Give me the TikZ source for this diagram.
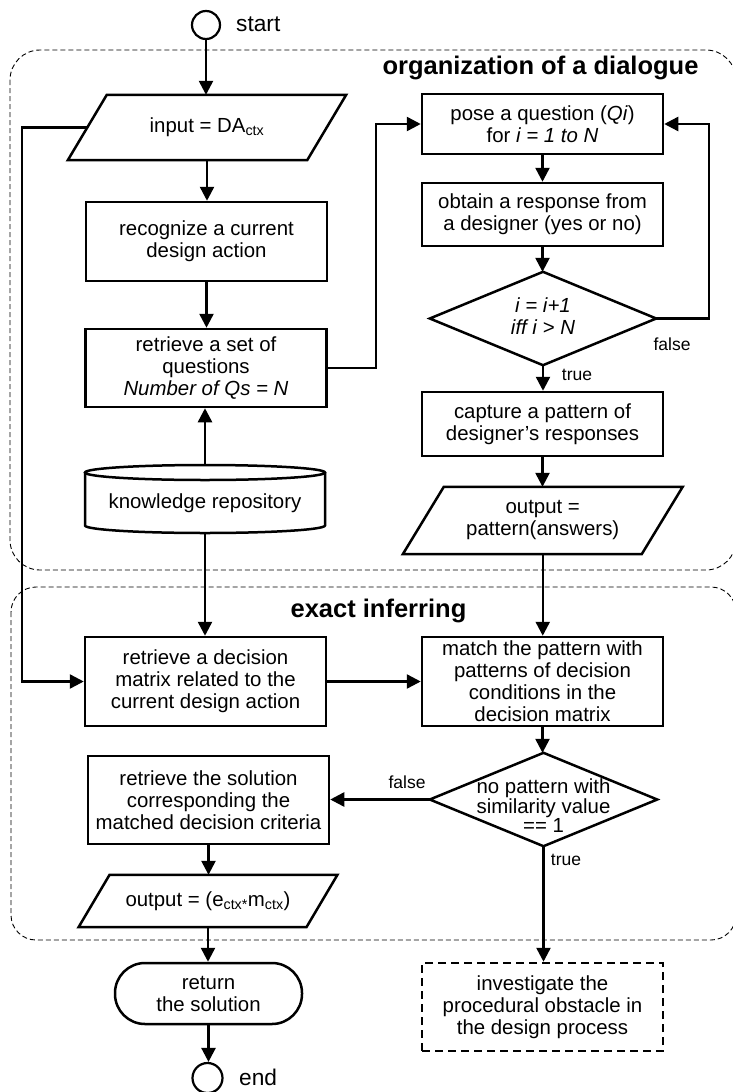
\documentclass[tikz,border=0pt]{standalone}
\usepackage{fontspec}
\setmainfont{Liberation Sans}
\usetikzlibrary{arrows.meta}
\newcommand\drawpara[2]{\draw[line] ([xshift=#2]#1.north west) -- ([xshift=#2]#1.north east) -- ([xshift=-#2]#1.south east) -- ([xshift=-#2]#1.south west) -- cycle;}
\begin{document}
\begin{tikzpicture}[x=1pt,y=-1pt,
  line/.style={line width=2.5pt},
  arr/.style={line width=2.5pt,-{Triangle[length=14pt,width=14pt]}},
  txt/.style={font=\fontsize{20.4}{22}\selectfont,align=center,inner sep=1pt},
  box/.style={txt,draw,line width=2.5pt,minimum width=241pt},
  ghost/.style={txt},
  invbox/.style={box,dash pattern=on 8pt off 5pt},
  circ/.style={draw,circle,line width=2.2pt,minimum size=28pt,inner sep=0pt},
  cont/.style={line width=0.9pt,dash pattern=on 5pt off 3pt},
  title/.style={font=\bfseries\fontsize{25.5}{28}\selectfont,inner sep=0pt},
  lab/.style={font=\fontsize{17.5}{19}\selectfont,inner sep=0pt},
  sel/.style={font=\fontsize{22.7}{24}\selectfont,inner sep=0pt,anchor=west}]
\useasboundingbox (0,0) rectangle (733,1092);
\fill[white] (0,0) rectangle (733,1092);
% containers
\draw[cont,rounded corners=30pt] (10,50) rectangle (736,570);
\draw[cont,rounded corners=25pt] (11,587) rectangle (736,940);
\node[title] (t1) at (540.5,68) {organization of a dialogue};
\node[title] (t2) at (378.5,611) {exact inferring};
% left column
\node[circ] (start) at (206,25) {};
\node[sel] (startl) at (236,24) {start};
\node[ghost,minimum width=239pt,minimum height=65pt] (in) at (207,127.5) {input = DA\textsubscript{ctx}};
\drawpara{in}{19.5pt}
\node[box,minimum height=79pt] (rec) at (206.5,241.5) {recognize a current\\design action};
\node[box,minimum height=78pt] (set) at (206,368) {retrieve a set of\\questions\\\textit{Number of Qs = N}};
\node[ghost,minimum width=240pt,minimum height=68pt] (kr) at (205,499) {};
\draw[line] (85,472.5) -- (85,525.5) arc[start angle=180,end angle=360,x radius=120pt,y radius=7.5pt] -- (325,472.5);
\draw[line] (205,472.5) ellipse[x radius=120pt,y radius=7.5pt];
\node[txt] (krt) at (205,503) {knowledge repository};
\node[box,minimum height=89pt] (dm) at (205.5,681.5) {retrieve a decision\\matrix related to the\\current design action};
\node[box,minimum height=88pt] (sol) at (208.5,800) {retrieve the solution\\corresponding the\\matched decision criteria};
\node[ghost,minimum width=227.5pt,minimum height=52pt] (out3) at (208,901) {output = (e\textsubscript{ctx*}m\textsubscript{ctx})};
\drawpara{out3}{15.5pt}
\node[box,rounded corners=30pt,minimum width=187pt,minimum height=61pt] (term) at (208.5,993.5) {return\\the solution};
\node[circ,minimum size=30pt] (end) at (207.5,1078) {};
\node[sel] (endl) at (239,1077) {end};
% right column
\node[box,minimum height=60pt] (pose) at (542.5,124) {pose a question (\textit{Qi})\\for \textit{i = 1 to N}};
\node[box,minimum height=63pt] (obt) at (542.5,214.5) {obtain a response from\\a designer (yes or no)};
\node[ghost,minimum width=226pt,minimum height=93pt] (d1) at (543,318.5) {};
\draw[line] (d1.north) -- (d1.east) -- (d1.south) -- (d1.west) -- cycle;
\node[txt] (d1t) at (543,316.5) {\textit{i = i+1}\\\textit{iff i > N}};
\node[box,minimum height=64pt] (cap) at (542.5,424) {capture a pattern of\\designer’s responses};
\node[ghost,minimum width=238.5pt,minimum height=67pt] (out2) at (542.75,520.5) {output =\\pattern(answers)};
\drawpara{out2}{20.5pt}
\node[box,minimum height=89pt] (match) at (542.5,681.5) {match the pattern with\\patterns of decision\\conditions in the\\decision matrix};
\node[ghost,minimum width=227pt,minimum height=93pt] (d2) at (543.5,799.5) {};
\draw[line] (d2.north) -- (d2.east) -- (d2.south) -- (d2.west) -- cycle;
\node[txt,font=\fontsize{20.4}{19}\selectfont] (d2t) at (543.5,806) {no pattern with\\similarity value\\== 1};
\node[invbox,minimum height=88pt] (inv) at (542.5,1007) {investigate the\\procedural obstacle in\\the design process};
% labels
\node[lab] (f1) at (672,344) {false};
\node[lab] (tr1) at (577,375) {true};
\node[lab] (f2) at (407,782) {false};
\node[lab] (tr2) at (566,860) {true};
% connectors
\draw[arr] (start.south) -- (start.south |- in.north);
\draw[arr] (in.south) -- (in.south |- rec.north);
\draw[arr] (rec.south) -- (rec.south |- set.north);
\draw[arr] (kr.north) -- (kr.north |- set.south);
\draw[arr] (kr.south) -- (kr.south |- dm.north);
\draw[arr] (in.west) -- ++(-65.5,0) |- (dm.west);
\draw[arr] (set.east) -- ++(48,0) |- (pose.west);
\draw[arr] (pose.south) -- (pose.south |- obt.north);
\draw[arr] (obt.south) -- (obt.south |- d1.north);
\draw[arr] (d1.east) -- ++(53,0) |- (pose.east);
\draw[arr] (d1.south) -- (d1.south |- cap.north);
\draw[arr] (cap.south) -- (cap.south |- out2.north);
\draw[arr] (out2.south) -- (out2.south |- match.north);
\draw[arr] (dm.east) -- (dm.east -| match.west);
\draw[arr] (match.south) -- (match.south |- d2.north);
\draw[arr] (d2.west) -- (d2.west -| sol.east);
\draw[arr] (d2.south) -- (d2.south |- inv.north);
\draw[arr] (sol.south) -- (sol.south |- out3.north);
\draw[arr] (out3.south) -- (out3.south |- term.north);
\draw[arr] (term.south) -- (term.south |- end.north);
\end{tikzpicture}
\end{document}
